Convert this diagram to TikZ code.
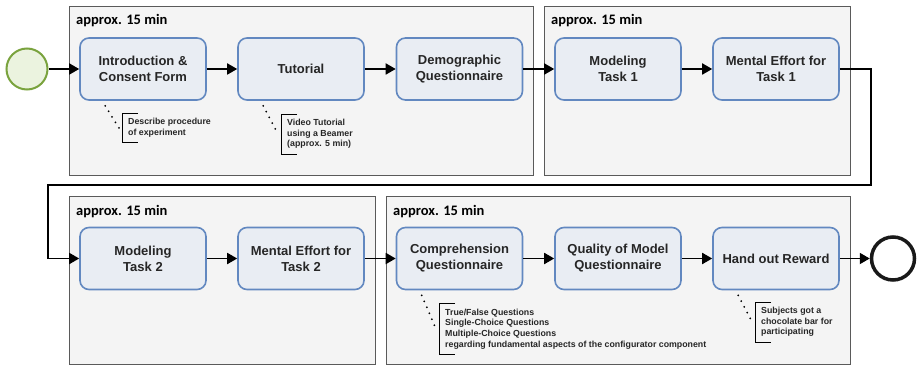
\documentclass[tikz,border=0pt]{standalone}
\usepackage{fontspec}
\setmainfont{Liberation Sans}
\newfontfamily\labelfont{Carlito}
\usetikzlibrary{arrows.meta}

\definecolor{groupfill}{HTML}{F4F4F4}
\definecolor{groupline}{HTML}{5A5A5A}
\definecolor{taskfill}{HTML}{E9EDF3}
\definecolor{taskline}{HTML}{6288C0}
\definecolor{startfill}{HTML}{EBF3DF}
\definecolor{startline}{HTML}{7AA33E}

\tikzset{
  group/.style={draw=groupline, fill=groupfill, line width=0.9pt},
  grouplabel/.style={anchor=base west, inner sep=0pt, font=\labelfont\bfseries\fontsize{14.5}{16}\selectfont},
  task/.style={draw=taskline, fill=taskfill, line width=1.6pt, rounded corners=9pt,
    minimum width=126pt, minimum height=62pt, align=center, inner sep=2pt,
    font=\bfseries\fontsize{13}{16}\selectfont, text=black!85},
  note/.style={anchor=west, align=left, inner xsep=6pt, inner ysep=5pt,
    font=\bfseries\fontsize{8.8}{10.6}\selectfont, text=black!85},
  bracket/.style={line width=0.8pt},
  assoc/.style={line width=2pt, line cap=round, dash pattern=on 0pt off 6.5pt},
  flow/.style={line width=1.8pt, -{Triangle[length=10pt,width=11pt]}},
}

\begin{document}
\begin{tikzpicture}[x=1pt, y=-1pt]
	\useasboundingbox (0,0) rectangle (917,366);
	% phases
	\draw[group] (69,6) rectangle (533,175);
	\draw[group] (544,6) rectangle (850,175);
	\draw[group] (69,196) rectangle (375,364);
	\draw[group] (386,196) rectangle (850,364);
	\node[grouplabel] (lab1) at (76,25) {approx. 15 min};
	\node[grouplabel] (lab2) at (551,25) {approx. 15 min};
	\node[grouplabel] (lab3) at (76,215) {approx. 15 min};
	\node[grouplabel] (lab4) at (393,215) {approx. 15 min};

	% events
	\node[circle, draw=startline, fill=startfill, line width=2pt, minimum size=41pt, inner sep=0pt] (start) at (27,69) {};
	\node[circle, draw=black!90, fill=white, line width=3.5pt, minimum size=43pt, inner sep=0pt] (end) at (893,258.5) {};

	% tasks
	\node[task] (intro) at (143,69) {Introduction \&\\Consent Form};
	\node[task] (tutorial) at (301,69) {Tutorial};
	\node[task] (demo) at (459.5,69) {Demographic\\Questionnaire};
	\node[task] (model1) at (618,69) {Modeling\\Task 1};
	\node[task] (effort1) at (776,69) {Mental Effort for\\Task 1};
	\node[task] (model2) at (143,258.5) {Modeling\\Task 2};
	\node[task] (effort2) at (301,258.5) {Mental Effort for\\Task 2};
	\node[task] (compr) at (459.5,258.5) {Comprehension\\Questionnaire};
	\node[task] (quality) at (618,258.5) {Quality of Model\\Questionnaire};
	\node[task] (reward) at (776,258.5) {Hand out Reward};

	% flow
	\draw[flow] (start) -- (intro);
	\draw[flow] (intro) -- (tutorial);
	\draw[flow] (tutorial) -- (demo);
	\draw[flow] (demo) -- (model1);
	\draw[flow] (model1) -- (effort1);
	\draw[flow] (effort1.east) -- (871,69) -- (871,185) -- (48,185) -- (48,258.5) -- (model2.west);
	\draw[flow] (model2) -- (effort2);
	\draw[flow] (effort2) -- (compr);
	\draw[flow] (compr) -- (quality);
	\draw[flow] (quality) -- (reward);
	\draw[flow] (reward) -- (end);

	% annotations
	\node[note] (n1) at (122,128) {Describe procedure\\of experiment};
	\node[note] (n2) at (281,134) {Video Tutorial\\using a Beamer\\(approx. 5 min)};
	\node[note] (n3) at (439,329) {True/False Questions\\Single-Choice Questions\\Multiple-Choice Questions\\regarding fundamental aspects of the configurator component};
	\node[note] (n4) at (755,322) {Subjects got a\\chocolate bar for\\participating};
	\foreach \n/\t in {n1/intro, n2/tutorial, n3/compr, n4/reward}{
		\draw[bracket] ([xshift=16pt]\n.north west) -- (\n.north west) -- (\n.south west) -- ([xshift=16pt]\n.south west);
		\draw[assoc] ([xshift=26pt, yshift=-5pt]\t.south west) -- ([xshift=-3pt]\n.west);
	}
\end{tikzpicture}
\end{document}
